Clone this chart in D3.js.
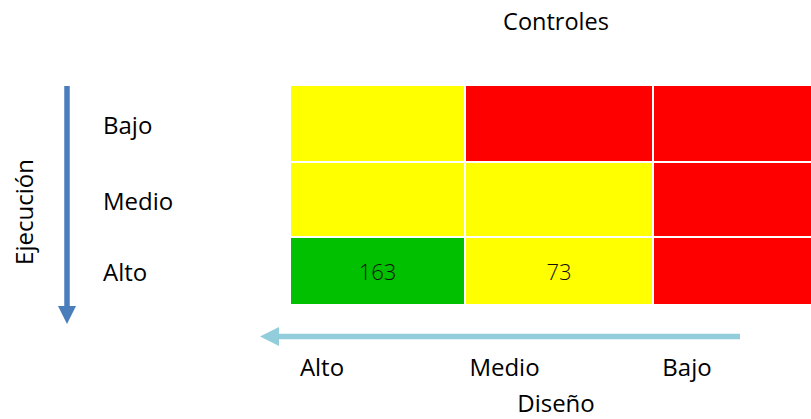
<!DOCTYPE html>
<html><head><meta charset="utf-8">
<script src="https://cdn.jsdelivr.net/npm/d3@7"></script>
<style>html,body{margin:0;padding:0;background:#fff;}svg{display:block;font-family:"Open Sans","Noto Sans",sans-serif;}</style>
</head><body>
<svg id="c" width="811" height="419"></svg>
<script>
// Data
const disenoLevels = ["Alto", "Medio", "Bajo"];      // columns (Diseño)
const ejecucionLevels = ["Bajo", "Medio", "Alto"];   // rows (Ejecución)
const riskRowBajo  = ["amarillo", "rojo", "rojo"];
const riskRowMedio = ["amarillo", "amarillo", "rojo"];
const riskRowAlto  = ["verde", "amarillo", "rojo"];
const countRowBajo  = [null, null, null];
const countRowMedio = [null, null, null];
const countRowAlto  = [163, 73, null];
const titleTop = "Controles";
const titleBottom = "Diseño";
const titleLeft = "Ejecución";

const riskRows = [riskRowBajo, riskRowMedio, riskRowAlto];
const countRows = [countRowBajo, countRowMedio, countRowAlto];
const cells = [];
ejecucionLevels.forEach((r, i) => disenoLevels.forEach((c, j) => {
  cells.push({row: r, ri: i, col: c, ci: j, risk: riskRows[i][j], value: countRows[i][j]});
}));

const svg = d3.select("#c");
const color = d3.scaleOrdinal().domain(["verde", "amarillo", "rojo"]).range(["#00C000", "#FFFF00", "#FF0000"]);

// Edge scales (cell index -> pixel)
const xEdge = d3.scaleLinear().domain([0, 1, 2, 3]).range([290, 465, 653, 846]);
const yEdge = d3.scaleLinear().domain([0, 1, 2, 3]).range([85, 162, 237, 305]);
const gap = 1;

svg.append("g").selectAll("rect").data(cells).join("rect")
  .attr("x", d => xEdge(d.ci) + gap)
  .attr("y", d => yEdge(d.ri) + gap)
  .attr("width", d => xEdge(d.ci + 1) - xEdge(d.ci) - 2 * gap)
  .attr("height", d => yEdge(d.ri + 1) - yEdge(d.ri) - 2 * gap)
  .attr("fill", d => color(d.risk));

svg.append("g").selectAll("text").data(cells.filter(d => d.value != null)).join("text")
  .attr("x", d => (xEdge(d.ci) + xEdge(d.ci + 1)) / 2)
  .attr("y", d => (yEdge(d.ri) + yEdge(d.ri + 1)) / 2 + 9)
  .attr("text-anchor", "middle")
  .attr("font-size", 22)
  .attr("font-weight", 300)
  .attr("fill", "#111")
  .text(d => d.value);

// Row labels
svg.append("g").selectAll("text").data(ejecucionLevels).join("text")
  .attr("x", 103)
  .attr("y", (d, i) => (yEdge(i) + yEdge(i + 1)) / 2 + 10)
  .attr("font-size", 24)
  .attr("fill", "#000")
  .text(d => d);

// Bottom column labels
const xLab = d3.scalePoint().domain(disenoLevels).range([322, 687]);
svg.append("g").selectAll("text").data(disenoLevels).join("text")
  .attr("x", d => xLab(d))
  .attr("y", 376)
  .attr("text-anchor", "middle")
  .attr("font-size", 24)
  .attr("fill", "#000")
  .text(d => d);

// Titles
svg.append("text").attr("x", 556).attr("y", 30).attr("text-anchor", "middle")
  .attr("font-size", 23.5).attr("fill", "#000").text(titleTop);
svg.append("text").attr("x", 556).attr("y", 412).attr("text-anchor", "middle")
  .attr("font-size", 24).attr("fill", "#000").text(titleBottom);
svg.append("text").attr("transform", "translate(33,212) rotate(-90)").attr("text-anchor", "middle")
  .attr("font-size", 24).attr("fill", "#000").text(titleLeft);

// Vertical arrow (Ejecución)
svg.append("line").attr("x1", 67).attr("y1", 86).attr("x2", 67).attr("y2", 308)
  .attr("stroke", "#4A7EBB").attr("stroke-width", 5.5);
svg.append("path").attr("d", d3.line()([[58, 306], [76, 306], [67, 324]])).attr("fill", "#4A7EBB");

// Horizontal arrow (Diseño)
svg.append("line").attr("x1", 740).attr("y1", 336.5).attr("x2", 276).attr("y2", 336.5)
  .attr("stroke", "#92CDDC").attr("stroke-width", 5.5);
svg.append("path").attr("d", d3.line()([[279, 327], [279, 346], [260, 336.5]])).attr("fill", "#92CDDC");
</script>
</body></html>
